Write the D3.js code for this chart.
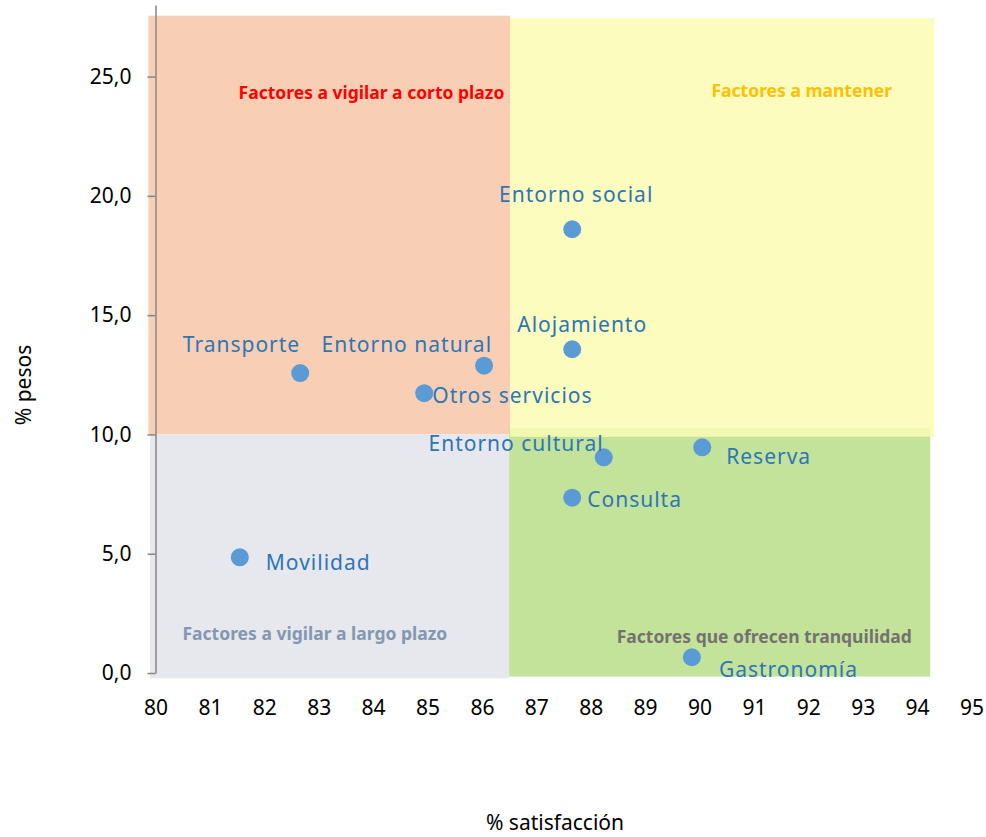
<!DOCTYPE html>
<html>
<head>
<meta charset="utf-8">
<script src="https://cdn.jsdelivr.net/npm/d3@7"></script>
<style>
  body { margin: 0; background: #fff; }
  text { font-family: "Noto Sans", "Open Sans", sans-serif; }
  .tick text { font-size: 21px; fill: #000; }
  .pointLabel { font-size: 21px; fill: #2E75B6; letter-spacing: 1px; }
  .quadTitle { font-size: 17.5px; font-weight: bold; }
  .axisText { font-size: 21px; fill: #000; }
</style>
</head>
<body>
<div id="scatter"></div>
<script>
// factores
var factores = ["Transporte", "Entorno natural", "Otros servicios", "Entorno social", "Alojamiento",
                "Entorno cultural", "Reserva", "Consulta", "Movilidad", "Gastronomía"];
var satisfaccion = [82.66, 86.04, 84.94, 87.66, 87.66, 88.24, 90.05, 87.66, 81.55, 89.86];
var pesos = [12.57, 12.88, 11.73, 18.60, 13.57, 9.04, 9.46, 7.35, 4.85, 0.66];

// quadrant backgrounds: [x0, x1, y0, y1] in data units
var quadNames = ["Factores a vigilar a corto plazo", "Factores a mantener",
                 "Factores a vigilar a largo plazo", "Factores que ofrecen tranquilidad"];
var quadX = [[79.87, 86.52], [86.52, 94.31], [79.9, 86.5], [86.5, 94.24]];
var quadY = [[10.0, 27.55], [9.9, 27.45], [-0.22, 10.0], [-0.15, 10.26]];

var xTicks = d3.range(80, 96, 1);
var yTicks = [0, 5, 10, 15, 20, 25];

var svgwidth = 986;
var svgheight = 837;
var margin = { top: 5, left: 155.5 };
var width = 816;
var height = 668;

var quadFill = ["#F8CFB4", "#FCFCB4", "#E6E8EE", "#C3E39B"];
var quadColor = ["#FF0000", "#FFC000", "#8497B0", "#767171"];
// title anchor (centre) in data units
var quadPos = [[83.97, 24.07], [91.88, 24.16], [82.93, 1.38], [91.19, 1.27]];

// label placement relative to the marker (px)
var labelPlace = {
  "Transporte": ["end", 0, -21.6],
  "Entorno natural": ["end", 8, -14],
  "Otros servicios": ["start", 8, 10],
  "Entorno social": ["middle", 4, -27.6],
  "Alojamiento": ["middle", 10, -17],
  "Entorno cultural": ["end", 0, -6.6],
  "Reserva": ["start", 24, 17],
  "Consulta": ["start", 15, 9.6],
  "Movilidad": ["start", 26, 12.7],
  "Gastronomía": ["start", 27, 20]
};

var svg = d3.select("#scatter")
  .append("svg")
  .attr("width", svgwidth)
  .attr("height", svgheight);

var chartGroup = svg.append("g")
  .attr("transform", `translate(${margin.left},${margin.top})`);

var xscale = d3.scaleLinear().domain([80, 95]).range([0, width]);
var yscale = d3.scaleLinear().domain([0, 28]).range([height, 0]);

// quadrants (green before yellow so the yellow edge sits on top)
var order = [0, 2, 3, 1];
chartGroup.selectAll("rect.quad")
  .data(order)
  .enter()
  .append("rect")
  .attr("class", "quad")
  .attr("x", i => xscale(quadX[i][0]))
  .attr("width", i => xscale(quadX[i][1]) - xscale(quadX[i][0]))
  .attr("y", i => yscale(quadY[i][1]))
  .attr("height", i => yscale(quadY[i][0]) - yscale(quadY[i][1]))
  .attr("fill", i => quadFill[i])
  .attr("fill-opacity", i => i == 1 ? 0.85 : 1);

chartGroup.selectAll("text.quadTitle")
  .data(quadNames)
  .enter()
  .append("text")
  .attr("class", "quadTitle")
  .attr("x", (d, i) => xscale(quadPos[i][0]))
  .attr("y", (d, i) => yscale(quadPos[i][1]))
  .attr("text-anchor", "middle")
  .attr("fill", (d, i) => quadColor[i])
  .text(d => d);

// axes
var esLocale = d3.formatLocale({ decimal: ",", thousands: ".", grouping: [3], currency: ["", "€"] });

var yAxis = d3.axisLeft(yscale)
  .tickValues(yTicks)
  .tickFormat(esLocale.format(".1f"))
  .tickSizeInner(8)
  .tickSizeOuter(0)
  .tickPadding(16);

var yg = chartGroup.append("g").call(yAxis);
yg.select(".domain").attr("stroke", "#868686").attr("stroke-width", 1.5);
yg.selectAll(".tick line").attr("stroke", "#868686").attr("stroke-width", 1.5);

var xAxis = d3.axisBottom(xscale)
  .tickValues(xTicks)
  .tickFormat(d3.format("d"))
  .tickSize(0)
  .tickPadding(27);

var xg = chartGroup.append("g")
  .attr("transform", `translate(0, ${height})`)
  .call(xAxis);
xg.select(".domain").remove();

// points
chartGroup.selectAll("circle")
  .data(factores)
  .enter()
  .append("circle")
  .attr("cx", (d, i) => xscale(satisfaccion[i]))
  .attr("cy", (d, i) => yscale(pesos[i]))
  .attr("r", 9)
  .attr("fill", "#5B9BD5");

chartGroup.selectAll("text.pointLabel")
  .data(factores)
  .enter()
  .append("text")
  .attr("class", "pointLabel")
  .attr("x", (d, i) => xscale(satisfaccion[i]) + labelPlace[d][1])
  .attr("y", (d, i) => yscale(pesos[i]) + labelPlace[d][2])
  .attr("text-anchor", d => labelPlace[d][0])
  .text(d => d);

// axis titles
svg.append("text")
  .attr("class", "axisText")
  .attr("transform", "translate(31, 385) rotate(-90)")
  .attr("text-anchor", "middle")
  .text("% pesos");

svg.append("text")
  .attr("class", "axisText")
  .attr("x", 555)
  .attr("y", 830)
  .attr("text-anchor", "middle")
  .text("% satisfacción");
</script>
</body>
</html>
